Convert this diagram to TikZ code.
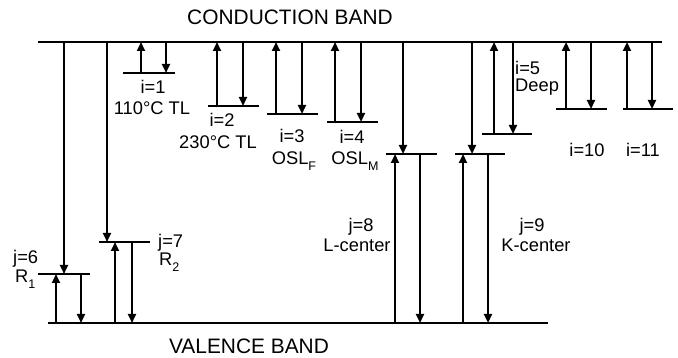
\documentclass[tikz,border=0pt]{standalone}
\usepackage{fontspec}
\setmainfont{Liberation Sans}
\usetikzlibrary{arrows.meta}
\newcommand\sbs[1]{\raisebox{-0.28em}{\fontsize{12.5}{14}\selectfont #1}}
\begin{document}
\begin{tikzpicture}[x=1pt,y=-1pt,
  band/.style={line width=1.2pt},
  level/.style={line width=1.2pt},
  trans/.style={line width=2.2pt,-{Triangle[length=9pt,width=8pt]}},
  lbl/.style={inner sep=0pt,anchor=base,font=\fontsize{18.3}{22}\selectfont},
  lblw/.style={lbl,anchor=base west},
  title/.style={inner sep=0pt,anchor=base,font=\fontsize{20.9}{25}\selectfont}]
\useasboundingbox (0,0) rectangle (678,358);
% bands
\coordinate (cbL) at (38,42); \coordinate (cbR) at (662,42);
\coordinate (vbL) at (48,323); \coordinate (vbR) at (548,323);
\draw[band] (cbL) -- (cbR);
\draw[band] (vbL) -- (vbR);
\node[title] (cbt) at (290,25) {CONDUCTION BAND};
\node[title] (vbt) at (249,353) {VALENCE BAND};
% electron traps
\foreach \n/\y/\a/\b/\u/\d in {1/73/123/175/141/166, 2/106/208/259/217/243,
  3/114/267/318/276/302, 4/122/327/378/335/361, 5/134/482/532/494/513,
  10/109/556/607/566/591, 11/109/623/673/627/652} {
  \coordinate (e-\n-a) at (\a,\y); \coordinate (e-\n-b) at (\b,\y);
  \coordinate (e-\n-u) at (\u,\y); \coordinate (e-\n-d) at (\d,\y);
  \draw[level] (e-\n-a) -- (e-\n-b);
  \draw[trans] (e-\n-u) -- (e-\n-u |- cbL);
  \draw[trans] (e-\n-d |- cbL) -- (e-\n-d);
}
% hole traps
\foreach \n/\y/\a/\b/\c/\u/\d in {6/274/38/90/64/56/81, 7/242/99/150/107/115/132,
  8/154/386/437/403/395/420, 9/154/455/505/472/463/488} {
  \coordinate (h-\n-a) at (\a,\y); \coordinate (h-\n-b) at (\b,\y);
  \coordinate (h-\n-c) at (\c,\y);
  \coordinate (h-\n-u) at (\u,\y); \coordinate (h-\n-d) at (\d,\y);
  \draw[level] (h-\n-a) -- (h-\n-b);
  \draw[trans] (h-\n-c |- cbL) -- (h-\n-c);
  \draw[trans] (h-\n-u |- vbL) -- (h-\n-u);
  \draw[trans] (h-\n-d) -- (h-\n-d |- vbL);
}
% labels
\node[lbl] (l1a) at (153,94) {i=1};
\node[lbl] (l1b) at (152,115) {110°C TL};
\node[lbl] (l2a) at (222,127) {i=2};
\node[lbl] (l2b) at (218,149) {230°C TL};
\node[lbl] (l3a) at (292,143) {i=3};
\node[lbl] (l3b) at (294,165) {OSL\sbs{F}};
\node[lbl] (l4a) at (352,144) {i=4};
\node[lbl] (l4b) at (355,165) {OSL\sbs{M}};
\node[lblw] (l5a) at (515,75) {i=5};
\node[lblw] (l5b) at (515,92) {Deep};
\node[lbl] (l10) at (587,157) {i=10};
\node[lbl] (l11) at (643,157) {i=11};
\node[lblw] (l6a) at (13,264) {j=6};
\node[lblw] (l6b) at (15,283) {R\sbs{1}};
\node[lblw] (l7a) at (158,248) {j=7};
\node[lblw] (l7b) at (159,266) {R\sbs{2}};
\node[lbl] (l8a) at (361,232) {j=8};
\node[lbl] (l8b) at (357,252) {L-center};
\node[lbl] (l9a) at (532,232) {j=9};
\node[lbl] (l9b) at (536,252) {K-center};
\end{tikzpicture}
\end{document}
